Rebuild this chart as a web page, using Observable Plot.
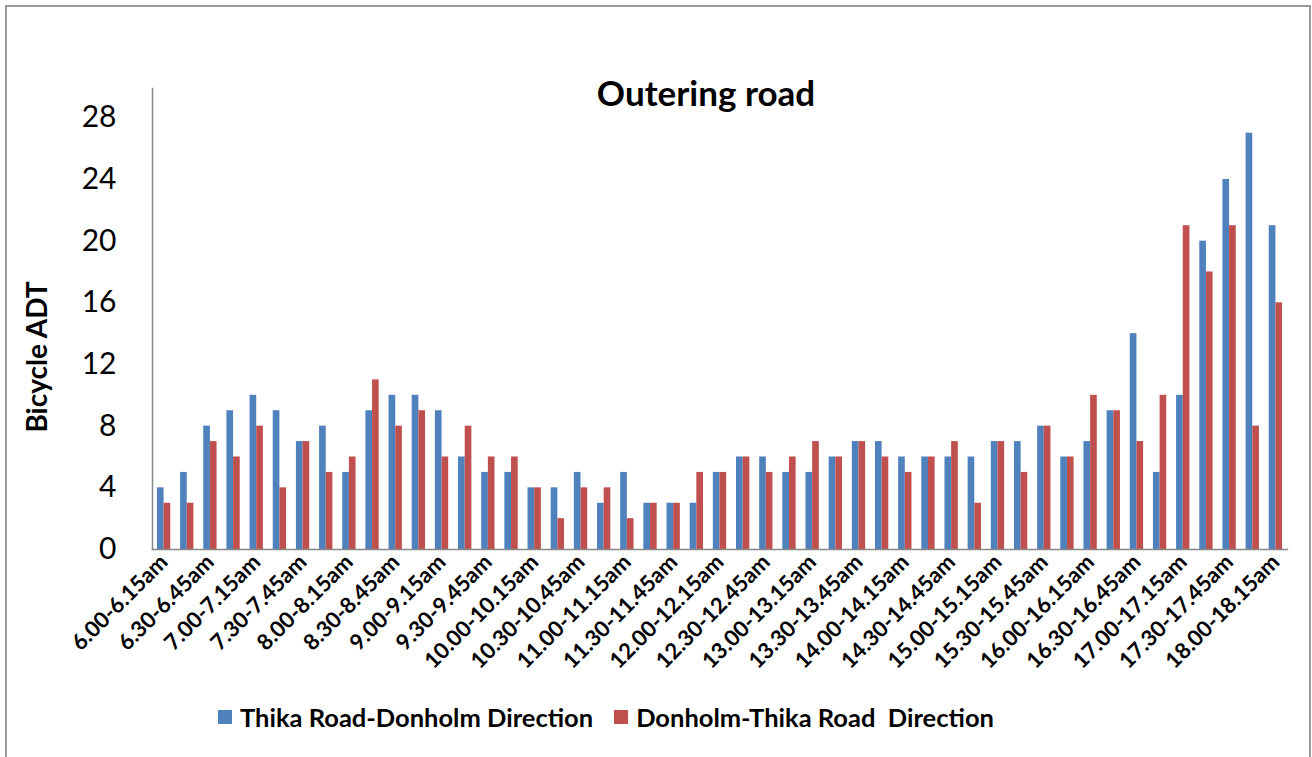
<!DOCTYPE html>
<html>
<head>
<meta charset="utf-8">
<script src="https://cdn.jsdelivr.net/npm/d3@7"></script>
<script src="https://cdn.jsdelivr.net/npm/@observablehq/plot@0.6"></script>
<style>
  html, body { margin: 0; padding: 0; background: #fff; }
  #wrap { position: relative; width: 1312px; height: 757px; overflow: hidden; font-family: Lato, sans-serif; }
  #border { position: absolute; left: 5px; top: 5px; width: 1306px; height: 800px; border: 2px solid #999; box-sizing: border-box; }
  #chart { position: absolute; left: 0; top: 0; }
  #title { position: absolute; left: 0; width: 1412px; top: 75px; text-align: center; font-size: 35px; font-weight: bold; line-height: 1; color: #000; }
  #ylabel { position: absolute; left: 36px; top: 357px; transform: translate(-50%, -50%) rotate(-90deg); font-size: 28px; font-weight: bold; white-space: nowrap; line-height: 1; color: #000; }
  #legend { position: absolute; left: 218px; top: 702px; display: flex; align-items: center; font-size: 25.5px; font-weight: bold; color: #000; white-space: pre; line-height: 1.2; }
  .sw { display: inline-block; width: 14px; height: 14px; margin-right: 8px; }
  .item { display: flex; align-items: center; margin-right: 21px; }
</style>
</head>
<body>
<div id="wrap">
  <div id="border"></div>
  <div id="chart"></div>
  <div id="title">Outering road</div>
  <div id="ylabel">Bicycle ADT</div>
  <div id="legend"></div>
</div>
<script>
const categories = [
  "6.00-6.15am","6.15-6.30am","6.30-6.45am","6.45-7.00am","7.00-7.15am","7.15-7.30am","7.30-7.45am","7.45-8.00am",
  "8.00-8.15am","8.15-8.30am","8.30-8.45am","8.45-9.00am","9.00-9.15am","9.15-9.30am","9.30-9.45am","9.45-10.00am",
  "10.00-10.15am","10.15-10.30am","10.30-10.45am","10.45-11.00am","11.00-11.15am","11.15-11.30am","11.30-11.45am","11.45-12.00am",
  "12.00-12.15am","12.15-12.30am","12.30-12.45am","12.45-13.00am","13.00-13.15am","13.15-13.30am","13.30-13.45am","13.45-14.00am",
  "14.00-14.15am","14.15-14.30am","14.30-14.45am","14.45-15.00am","15.00-15.15am","15.15-15.30am","15.30-15.45am","15.45-16.00am",
  "16.00-16.15am","16.15-16.30am","16.30-16.45am","16.45-17.00am","17.00-17.15am","17.15-17.30am","17.30-17.45am","17.45-18.00am",
  "18.00-18.15am"
];
const thikaToDonholm = [4,5,8,9,10,9,7,8,5,9,10,10,9,6,5,5,4,4,5,3,5,3,3,3,5,6,6,5,5,6,7,7,6,6,6,6,7,7,8,6,7,9,14,5,10,20,24,27,21];
const donholmToThika = [3,3,7,6,8,4,7,5,6,11,8,9,6,8,6,6,4,2,4,4,2,3,3,5,5,6,5,6,7,6,7,6,5,6,7,3,7,5,8,6,10,9,7,10,21,18,21,8,16];
const seriesNames = ["Thika Road-Donholm Direction", "Donholm-Thika Road  Direction"];
const seriesColors = ["#4F81BD", "#C0504D"];
const yTicks = [0, 4, 8, 12, 16, 20, 24, 28];
const xTickLabels = categories.filter((d, i) => i % 2 === 0);

const W = 1312, H = 700, mLeft = 152, mRight = 25, mTop = 88, mBottom = 151;
const xOptions = {type: "band", domain: categories, paddingInner: 0.425, paddingOuter: 0.2125, round: false};
const xProbe = Plot.scale({x: {...xOptions, range: [mLeft, W - mRight]}});
const half = xProbe.bandwidth / 2;

const blueRows = categories.map((c, i) => ({cat: c, series: seriesNames[0], value: thikaToDonholm[i]}));
const redRows = categories.map((c, i) => ({cat: c, series: seriesNames[1], value: donholmToThika[i]}));

const chart = Plot.plot({
  width: W,
  height: H,
  marginLeft: mLeft,
  marginRight: mRight,
  marginTop: mTop,
  marginBottom: mBottom,
  style: {fontFamily: "Lato, sans-serif", background: "transparent", color: "#000", overflow: "visible"},
  x: {...xOptions, axis: null},
  y: {domain: [0, 29.9], axis: null},
  color: {domain: seriesNames, range: seriesColors},
  marks: [
    Plot.barY(blueRows, {x: "cat", y: "value", fill: "series", insetRight: half}),
    Plot.barY(redRows, {x: "cat", y: "value", fill: "series", insetLeft: half}),
    Plot.frame({anchor: "left", stroke: "#888", strokeWidth: 1.5}),
    Plot.frame({anchor: "bottom", stroke: "#888", strokeWidth: 1.5}),
    Plot.axisY({ticks: yTicks, tickSize: 0, tickPadding: 36, fontSize: 30, label: null, anchor: "left"}),
    Plot.axisX({ticks: xTickLabels, tickRotate: -45, tickSize: 0, tickPadding: 9, fontSize: 22, fontWeight: "bold", label: null, anchor: "bottom"})
  ]
});
document.getElementById("chart").appendChild(chart);

const legend = document.getElementById("legend");
seriesNames.forEach((name, i) => {
  const item = document.createElement("span");
  item.className = "item";
  const sw = document.createElement("span");
  sw.className = "sw";
  sw.style.background = seriesColors[i];
  item.appendChild(sw);
  item.appendChild(document.createTextNode(name));
  legend.appendChild(item);
});
</script>
</body>
</html>
